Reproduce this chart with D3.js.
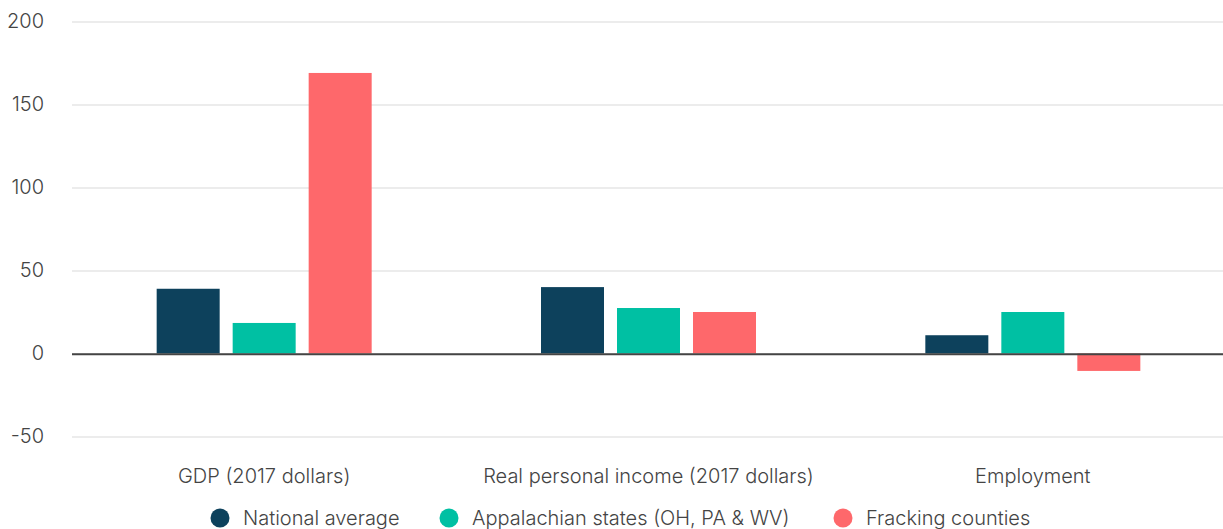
<!DOCTYPE html>
<html>
<head>
<meta charset="utf-8">
<script src="https://cdn.jsdelivr.net/npm/d3@7"></script>
<style>
  html, body { margin: 0; padding: 0; background: #fff; }
  svg { display: block; font-family: Inter, "Noto Sans", sans-serif; }
  text { font-weight: 300; }
</style>
</head>
<body>
<svg id="chart" width="1223" height="529"></svg>
<script>
// Growth by measure (percent change)
const categories = ["GDP (2017 dollars)", "Real personal income (2017 dollars)", "Employment"];
const seriesNames = ["National average", "Appalachian states (OH, PA & WV)", "Fracking counties"];
const nationalAverage = [39, 40, 11];
const appalachianStates = [18.4, 27.4, 25];
const frackingCounties = [169, 25, -10.5];
const yTicks = [-50, 0, 50, 100, 150, 200];
const colors = ["#0d415c", "#00c0a3", "#fe686b"];

const series = [nationalAverage, appalachianStates, frackingCounties];

const svg = d3.select("#chart");
const margin = { left: 72, right: -2, top: 21.5, bottom: 92 };
const width = 1223, height = 529;
const fontSize = 20;

const x = d3.scaleBand()
  .domain(categories)
  .range([margin.left, width - margin.right])
  .paddingInner(0)
  .paddingOuter(0);

const y = d3.scaleLinear()
  .domain([-50, 200])
  .range([436.5, margin.top]);

const barW = 63, barGap = 13;
const xInner = d3.scaleBand()
  .domain(d3.range(series.length))
  .range([0, series.length * barW + (series.length - 1) * barGap])
  .paddingInner(barGap / (barW + barGap))
  .paddingOuter(0);
const groupW = xInner.range()[1];

// gridlines
const grid = svg.append("g")
  .attr("transform", `translate(${margin.left},0)`)
  .call(d3.axisLeft(y).tickValues(yTicks).tickSize(-(width - margin.left - margin.right)).tickFormat(""));
grid.select(".domain").remove();
grid.selectAll("line").attr("stroke", "#e6e6e6").attr("stroke-width", 1.5);

// y tick labels
const yAxis = svg.append("g")
  .attr("transform", `translate(${margin.left},0)`)
  .call(d3.axisLeft(y).tickValues(yTicks).tickSize(0).tickPadding(28).tickFormat(d => String(d)));
yAxis.select(".domain").remove();
yAxis.selectAll("text")
  .attr("font-size", fontSize)
  .attr("font-family", "Inter, 'Noto Sans', sans-serif")
  .attr("fill", "#444");

// bars
const groups = svg.append("g").selectAll("g")
  .data(categories)
  .join("g")
  .attr("transform", d => `translate(${x(d) + x.bandwidth() / 2 - groupW / 2},0)`);

groups.selectAll("rect")
  .data((d, i) => series.map((s, k) => ({ k, v: s[i] })))
  .join("rect")
  .attr("x", d => xInner(d.k))
  .attr("width", xInner.bandwidth())
  .attr("y", d => y(Math.max(0, d.v)))
  .attr("height", d => Math.abs(y(d.v) - y(0)))
  .attr("fill", d => colors[d.k]);

// zero line
svg.append("line")
  .attr("x1", margin.left).attr("x2", width)
  .attr("y1", y(0) + 0.8).attr("y2", y(0) + 0.8)
  .attr("stroke", "#444").attr("stroke-width", 2);

// category labels
const xAxis = svg.append("g")
  .attr("transform", `translate(0,${y(-50)})`)
  .call(d3.axisBottom(x).tickSize(0).tickPadding(32));
xAxis.select(".domain").remove();
xAxis.selectAll("text")
  .attr("font-size", fontSize)
  .attr("font-family", "Inter, 'Noto Sans', sans-serif")
  .attr("fill", "#444");

// legend
const legendX = [220, 449, 843];
const legend = svg.append("g").selectAll("g")
  .data(seriesNames)
  .join("g")
  .attr("transform", (d, i) => `translate(${legendX[i]},518)`);
legend.append("circle").attr("r", 9.5).attr("fill", (d, i) => colors[i]);
legend.append("text")
  .attr("x", 23)
  .attr("dy", "0.36em")
  .attr("font-size", fontSize)
  .attr("fill", "#444")
  .text(d => d);
</script>
</body>
</html>
